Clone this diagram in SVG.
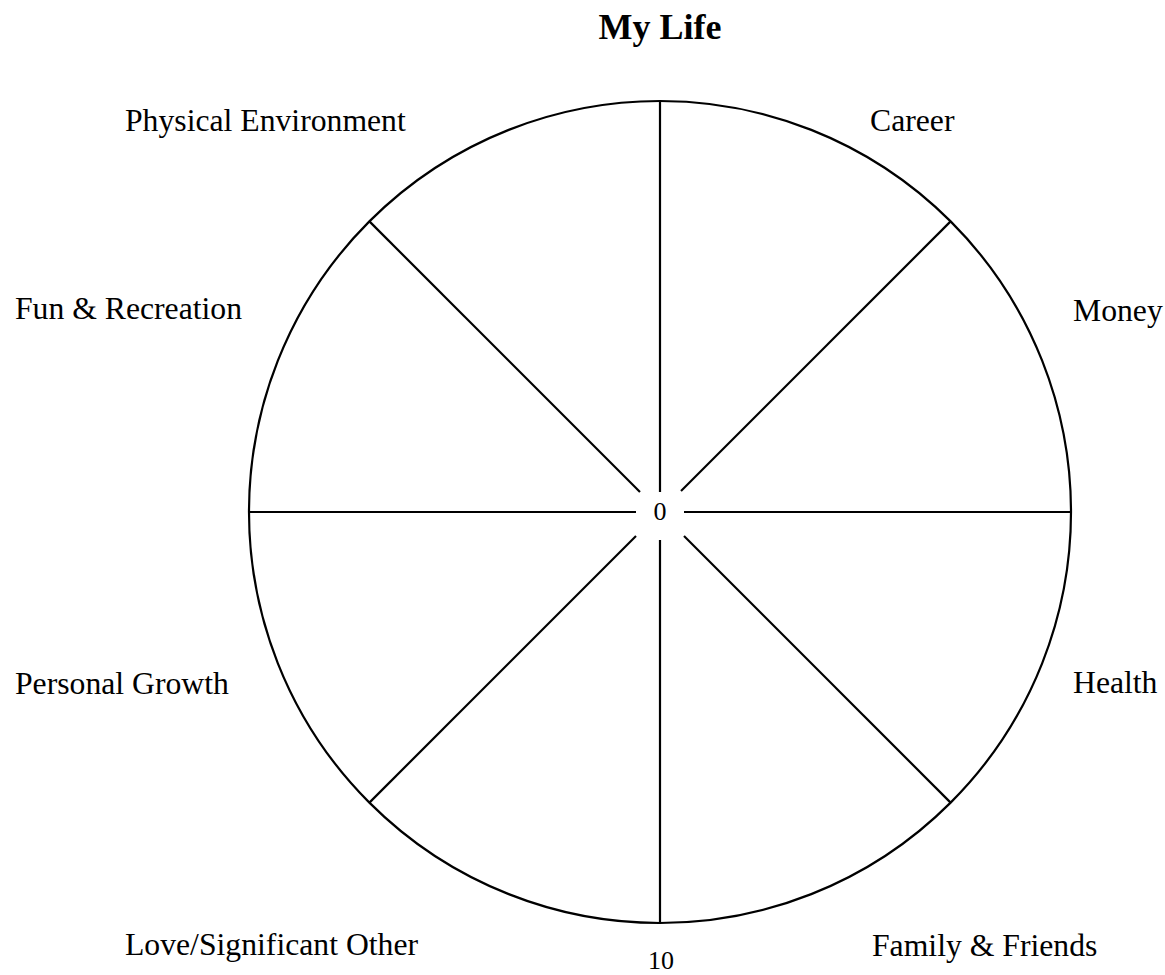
<svg xmlns="http://www.w3.org/2000/svg" width="1165" height="975" viewBox="0 0 1165 975">
  <style>
    text { font-family: "Liberation Serif", "Times New Roman", serif; fill: #000; }
    .title { font-size: 36px; font-weight: bold; text-anchor: middle; }
    .label { font-size: 31.7px; }
    .num { text-anchor: middle; }
    .wheel { fill: none; stroke: #000; stroke-width: 2.2; }
    .spoke { stroke: #000; stroke-width: 2.2; }
  </style>
  <rect width="1165" height="975" fill="#fff"/>
  <text class="title" x="660" y="39">My Life</text>

  <g id="wheel">
    <circle class="wheel" cx="660" cy="512" r="411"/>
  </g>

  <g id="spokes">
    <line class="spoke" x1="660" y1="101" x2="660" y2="492"/>
    <line class="spoke" x1="660" y1="540" x2="660" y2="923"/>
    <line class="spoke" x1="249" y1="512" x2="636" y2="512"/>
    <line class="spoke" x1="684" y1="512" x2="1071" y2="512"/>
    <line class="spoke" x1="369.4" y1="221.4" x2="640" y2="492"/>
    <line class="spoke" x1="950.6" y1="221.4" x2="681" y2="491"/>
    <line class="spoke" x1="369.4" y1="802.6" x2="636" y2="536"/>
    <line class="spoke" x1="950.6" y1="802.6" x2="684" y2="536"/>
  </g>

  <text class="num" x="660" y="520" font-size="26">0</text>
  <text class="num" x="661" y="969" font-size="26">10</text>

  <g id="label-physical"><text class="label" x="125" y="131">Physical Environment</text></g>
  <g id="label-career"><text class="label" x="870" y="131">Career</text></g>
  <g id="label-fun"><text class="label" x="15" y="319">Fun &amp; Recreation</text></g>
  <g id="label-money"><text class="label" x="1073" y="321">Money</text></g>
  <g id="label-growth"><text class="label" x="15" y="694">Personal Growth</text></g>
  <g id="label-health"><text class="label" x="1073" y="693">Health</text></g>
  <g id="label-love"><text class="label" x="125" y="955">Love/Significant Other</text></g>
  <g id="label-family"><text class="label" x="872" y="956">Family &amp; Friends</text></g>
</svg>
